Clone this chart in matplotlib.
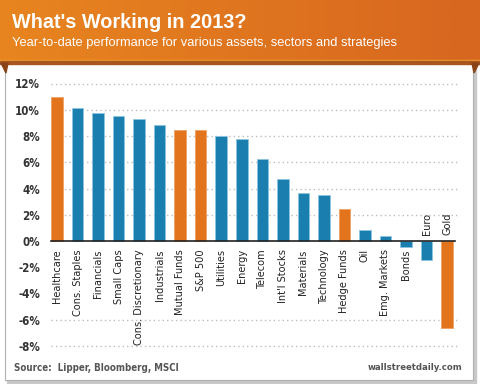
import matplotlib
matplotlib.use("Agg")
import matplotlib.pyplot as plt
from matplotlib.patches import Rectangle, Polygon
import numpy as np

# data
categories = ["Healthcare", "Cons. Staples", "Financials", "Small Caps",
              "Cons. Discretionary", "Industrials", "Mutual Funds", "S&P 500",
              "Utilities", "Energy", "Telecom", "Int'l Stocks", "Materials",
              "Technology", "Hedge Funds", "Oil", "Emg. Markets", "Bonds",
              "Euro", "Gold"]
values = [11.0, 10.1, 9.77, 9.55, 9.27, 8.86, 8.46, 8.44, 7.98, 7.78,
          6.21, 4.70, 3.67, 3.51, 2.45, 0.86, 0.41, -0.42, -1.48, -6.65]
highlight = ["Healthcare", "Mutual Funds", "S&P 500", "Hedge Funds", "Gold"]
y_ticks = [12, 10, 8, 6, 4, 2, 0, -2, -4, -6, -8]
grid_levels = [12, 10, 8, 6, 4, 2, -6, -8]

W, H = 480, 384
orange = '#E2741E'
orange_edge = '#F0A060'
blue = '#1A7FAE'
blue_edge = '#8CC4E0'
cond = dict(family='DejaVu Sans', fontstretch='condensed')

fig = plt.figure(figsize=(W / 100, H / 100), dpi=100, facecolor='white')


def px(x0, y0, x1, y1):
    """figure-fraction rect from pixel box (y from top)"""
    return [x0 / W, 1 - y1 / H, (x1 - x0) / W, (y1 - y0) / H]


# background layer drawn in pixel coordinates
bg = fig.add_axes([0, 0, 1, 1])
bg.axis('off')

# panel with shadow
bg.add_patch(Rectangle((7, 64), 469, 319, color='#c8c8c8', zorder=1))
bg.add_patch(Rectangle((5, 60), 468, 320, facecolor='white',
                       edgecolor='#b0b0b0', linewidth=0.8, zorder=2))

# header band with gradient
grad = np.linspace(0, 1, 256)[None, :]
cmap = matplotlib.colors.LinearSegmentedColormap.from_list('hdr', ['#E8851F', '#D7661F'])
bg.imshow(grad, cmap=cmap, extent=(0, W, 61, 0), aspect='auto', zorder=3)
bg.add_patch(Rectangle((0, 60), W, 1.2, color='#F0A030', zorder=4))
bg.add_patch(Rectangle((0, 61.2), W, 2.8, color='#A8561E', zorder=4))
bg.add_patch(Polygon([(1, 63), (8, 63), (6, 73)], closed=True, color='#8A4418', zorder=4))
bg.add_patch(Polygon([(472, 63), (479, 63), (474, 73)], closed=True, color='#8A4418', zorder=4))
bg.set_xlim(0, W)
bg.set_ylim(H, 0)

bg.text(12, 23, "What's Working in 2013?", color='white', fontsize=14.3,
        fontweight='bold', family='Liberation Sans', va='center', ha='left', zorder=5)
bg.text(12, 43, "Year-to-date performance for various assets, sectors and strategies",
        color='white', fontsize=9.3, family='Liberation Sans', va='center', ha='left', zorder=5)

bg.text(14, 368, "Source:  Lipper, Bloomberg, MSCI", color='#555555', fontsize=7.0,
        fontweight='bold', va='center', ha='left', zorder=5, **cond)
bg.text(462, 368, "wallstreetdaily.com", color='#555555', fontsize=6.8,
        fontweight='bold', va='center', ha='right', zorder=5, **cond)

# main chart
ax = fig.add_axes(px(51, 83.5, 460, 346))
ax.patch.set_alpha(0)
x = np.arange(len(categories))
colors = [orange if c in highlight else blue for c in categories]
edges = [orange_edge if c in highlight else blue_edge for c in categories]
ax.bar(x, values, width=0.56, color=colors, edgecolor=edges, linewidth=0.6, zorder=3)

x_left = -0.292
ax.set_xlim(x_left, 19.63)
ax.set_ylim(-8, 12)
for g in grid_levels:
    ax.plot([x_left, 19.63], [g, g], color='#bdbdbd', linewidth=1.0,
            linestyle=(0, (1, 2.2)), zorder=1, clip_on=False)
ax.plot([x_left, 19.39], [0, 0], color='#222222', linewidth=1.2, zorder=4, clip_on=False)

ax.set_yticks(y_ticks)
ax.set_yticklabels([f"{t}%" for t in y_ticks], fontweight='bold',
                   fontsize=8.3, color='#333333', **cond)
ax.tick_params(axis='y', length=0, pad=8)
ax.set_xticks([])
for s in ax.spines.values():
    s.set_visible(False)

# category labels: below the axis, above it for the larger negative bars
for xi, (cat, v) in enumerate(zip(categories, values)):
    if v < -1:
        ax.annotate(cat, (xi, 0), xytext=(0, 4.5), textcoords='offset points',
                    rotation=90, ha='center', va='bottom', fontsize=7.8,
                    color='#222222', zorder=5, **cond)
    else:
        ax.annotate(cat, (xi, 0), xytext=(0, -6), textcoords='offset points',
                    rotation=90, ha='center', va='top', fontsize=7.8,
                    color='#222222', zorder=5, **cond)

fig.savefig('out.png', dpi=100, facecolor='white')
